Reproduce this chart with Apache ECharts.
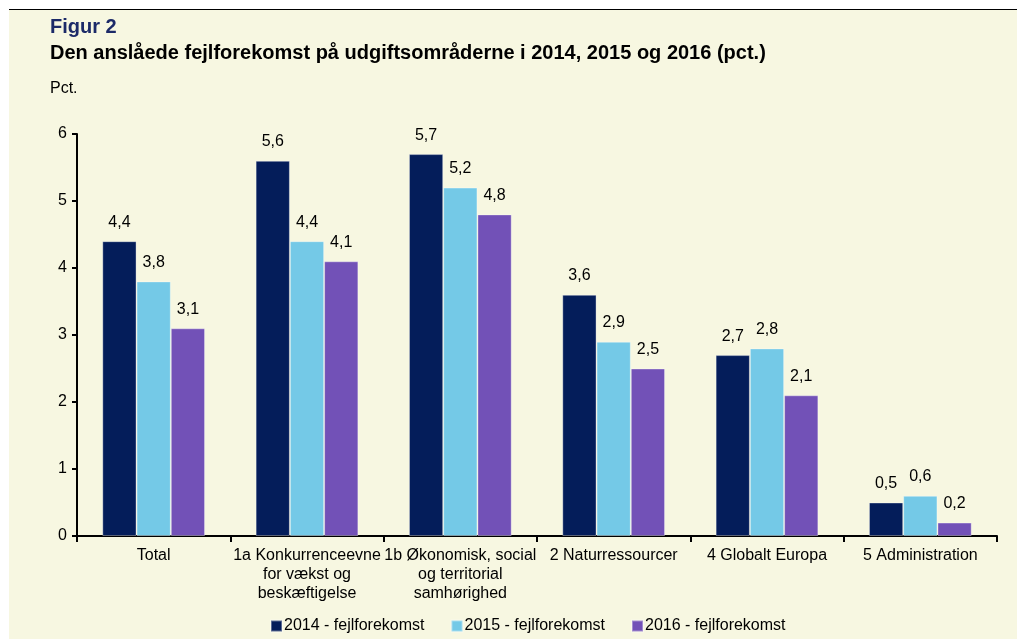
<!DOCTYPE html>
<html>
<head>
<meta charset="utf-8">
<script src="https://cdn.jsdelivr.net/npm/echarts@6/dist/echarts.min.js"></script>
<style>
  html, body { margin: 0; padding: 0; background: #fff; }
  #wrap { position: relative; width: 1017px; height: 639px; overflow: hidden; }
  #paper { position: absolute; left: 9px; top: 9px; right: 0; bottom: 0;
           background: #F7F7E1; border-top: 1.5px solid #000; }
  #main { position: absolute; left: 0; top: 0; width: 1017px; height: 639px; }
</style>
</head>
<body>
<div id="wrap">
  <div id="paper"></div>
  <div id="main"></div>
</div>
<script>
// kategorier og værdier (pct.)
var categories = [
  'Total',
  '1a Konkurrenceevne\nfor vækst og\nbeskæftigelse',
  '1b Økonomisk, social\nog territorial\nsamhørighed',
  '2 Naturressourcer',
  '4 Globalt Europa',
  '5 Administration'
];
var seriesNames = ['2014 - fejlforekomst', '2015 - fejlforekomst', '2016 - fejlforekomst'];
var values2014 = [4.4, 5.6, 5.7, 3.6, 2.7, 0.5];
var values2015 = [3.8, 4.4, 5.2, 2.9, 2.8, 0.6];
var values2016 = [3.1, 4.1, 4.8, 2.5, 2.1, 0.2];
var yTicks = [0, 1, 2, 3, 4, 5, 6];

var colors = ['#041D5A', '#74C9E7', '#7251B7'];
var font = 'Arial, "Liberation Sans", sans-serif';

var myChart = echarts.init(document.getElementById('main'));

function bar(name, data, i) {
    return {
        name: name,
        type: 'bar',
        data: data,
        barGap: '0%',
        barCategoryGap: '33%',
        itemStyle: { color: colors[i], borderColor: 'rgba(255,255,255,0.35)', borderWidth: 1 },
        label: {
            show: true,
            position: 'top',
            distance: 11,
            color: '#000',
            fontFamily: font,
            fontSize: 16,
            formatter: function (p) { return String(p.value).replace('.', ','); }
        }
    };
}

myChart.setOption({
    animation: false,
    textStyle: { fontFamily: font },
    title: [
        { text: 'Figur 2', left: 50, top: 17, padding: 0,
          textStyle: { fontSize: 20, fontWeight: 'bold', color: '#1C2A68', fontFamily: font } },
        { text: 'Den anslåede fejlforekomst på udgiftsområderne i 2014, 2015 og 2016 (pct.)', left: 50, top: 43, padding: 0,
          textStyle: { fontSize: 20, fontWeight: 'bold', color: '#000', fontFamily: font } },
        { text: 'Pct.', left: 50, top: 81, padding: 0,
          textStyle: { fontSize: 16, fontWeight: 'normal', color: '#000', fontFamily: font } }
    ],
    legend: {
        top: 613,
        left: 265,
        itemWidth: 11,
        itemHeight: 11,
        itemGap: 26,
        icon: 'rect',
        textStyle: { fontSize: 16, color: '#000', fontFamily: font, padding: [0, 0, 0, -3] },
        data: seriesNames
    },
    grid: { left: 77, right: 20, top: 134, bottom: 103 },
    xAxis: {
        type: 'category',
        data: categories,
        axisLine: { lineStyle: { color: '#000', width: 2 } },
        axisTick: { show: true, length: 6, alignWithLabel: false, lineStyle: { color: '#000', width: 2 } },
        axisLabel: { interval: 0, color: '#000', fontSize: 16, lineHeight: 19, margin: 10, fontFamily: font }
    },
    yAxis: {
        type: 'value',
        min: yTicks[0],
        max: yTicks[yTicks.length - 1],
        interval: 1,
        splitLine: { show: false },
        axisLine: { show: true, lineStyle: { color: '#000', width: 2 } },
        axisTick: { show: true, length: 5, lineStyle: { color: '#000', width: 2 } },
        axisLabel: { color: '#000', fontSize: 16, margin: 10, fontFamily: font }
    },
    series: [
        bar(seriesNames[0], values2014, 0),
        bar(seriesNames[1], values2015, 1),
        bar(seriesNames[2], values2016, 2)
    ]
});
</script>
</body>
</html>
